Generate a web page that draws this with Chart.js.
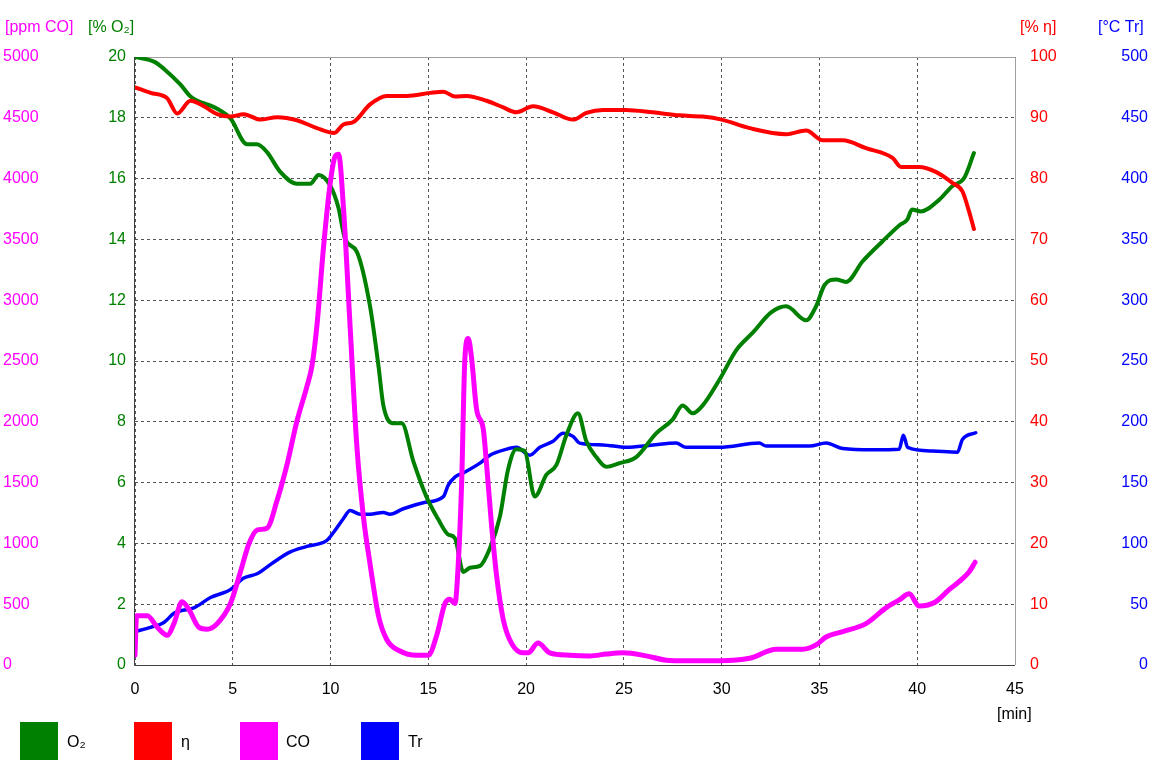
<!DOCTYPE html>
<html>
<head>
<meta charset="utf-8">
<script src="https://cdn.jsdelivr.net/npm/chart.js@4/dist/chart.umd.min.js"></script>
<style>
  body { margin: 0; background: #fff; font-family: "Liberation Sans", Arial, sans-serif; }
  #wrap { position: relative; width: 1152px; height: 768px; }
  .lg-box { position: absolute; top: 722px; width: 38px; height: 38px; }
  .lg-txt { position: absolute; top: 733px; font-size: 16px; color: #000; }
</style>
</head>
<body>
<div id="wrap">
  <canvas id="chartCanvas" width="1152" height="768"></canvas>
  <div class="lg-box" style="left:20px;background:#008000"></div><div class="lg-txt" style="left:67px">O₂</div>
  <div class="lg-box" style="left:134px;background:#ff0000"></div><div class="lg-txt" style="left:181px">η</div>
  <div class="lg-box" style="left:240px;background:#ff00ff"></div><div class="lg-txt" style="left:286px">CO</div>
  <div class="lg-box" style="left:361px;background:#0000ff"></div><div class="lg-txt" style="left:408px">Tr</div>
</div>
<script>
// values, time in minutes
const o2Time = [0, 1, 1.5, 2.33, 2.84, 4.2, 4.88, 5.73, 6.24, 6.75, 7.43, 8.28, 8.96, 9.39, 9.98, 10.4, 10.75, 11.34, 12.02, 12.45, 12.7, 13.2, 13.64, 14.23, 14.9, 15.5, 16.0, 16.36, 16.79, 17.13, 17.64, 18.15, 18.66, 19.08, 19.5, 19.93, 20.44, 21.04, 21.55, 22.06, 22.65, 23.08, 23.59, 24.1, 24.78, 25.63, 26.65, 27.5, 28.0, 28.52, 29.03, 29.9, 30.75, 31.6, 32.53, 33.3, 34.32, 34.83, 35.26, 35.85, 36.36, 37.21, 38.23, 39.08, 39.5, 39.73, 40.19, 41.12, 41.8, 42.4, 42.9];
const o2Values = [20, 19.84, 19.6, 19.09, 18.7, 18.3, 17.98, 17.13, 17.13, 16.87, 16.22, 15.83, 15.83, 16.12, 15.77, 15.05, 14.0, 13.6, 11.8, 9.84, 8.54, 7.95, 7.95, 6.71, 5.54, 4.8, 4.3, 4.17, 3.06, 3.2, 3.26, 3.84, 4.88, 6.44, 7.1, 7.04, 5.54, 6.26, 6.58, 7.56, 8.28, 7.36, 6.84, 6.52, 6.64, 6.84, 7.62, 8.08, 8.54, 8.28, 8.54, 9.4, 10.36, 10.94, 11.6, 11.8, 11.34, 11.8, 12.5, 12.68, 12.6, 13.28, 13.94, 14.46, 14.66, 14.98, 14.92, 15.3, 15.76, 16.02, 16.84];

const etaTime = [0, 0.8, 1.65, 2.16, 2.84, 3.52, 4.2, 4.88, 5.56, 6.41, 7.27, 8.28, 9.3, 10.19, 10.66, 11.17, 12.02, 12.87, 13.9, 15.09, 15.77, 16.36, 16.96, 17.98, 18.83, 19.5, 20.36, 21.38, 22.4, 23.08, 23.93, 25.1, 26.48, 27.84, 29.03, 30.0, 31.43, 33.3, 34.32, 35.17, 36.19, 37.38, 38.74, 39.17, 40.1, 40.95, 41.8, 42.31, 42.65, 42.9];
const etaValues = [95, 94.1, 93.2, 90.7, 92.8, 91.9, 90.6, 90.2, 90.6, 89.7, 90.1, 89.6, 88.3, 87.5, 88.9, 89.3, 92.2, 93.6, 93.6, 94.1, 94.3, 93.5, 93.6, 92.8, 91.7, 90.9, 91.9, 90.9, 89.7, 90.8, 91.3, 91.3, 90.9, 90.4, 90.2, 89.7, 88.3, 87.3, 87.9, 86.3, 86.3, 85.0, 83.4, 81.9, 81.9, 81.1, 79.3, 77.9, 74.6, 71.7];

const coTime = [0, 0.08, 0.63, 1.14, 1.65, 1.99, 2.41, 2.76, 3.27, 3.69, 4.2, 4.88, 5.39, 5.82, 6.24, 6.75, 7.26, 7.77, 8.28, 8.8, 9.05, 9.3, 9.64, 9.98, 10.24, 10.41, 10.66, 11.0, 11.34, 11.68, 12.02, 12.45, 12.87, 13.55, 14.4, 15.0, 15.43, 15.85, 16.1, 16.36, 16.53, 16.7, 16.87, 17.04, 17.21, 17.47, 17.81, 17.98, 18.23, 18.49, 18.83, 19.25, 19.85, 20.1, 20.61, 21.21, 22.23, 23.25, 24.1, 24.95, 26.14, 27.16, 28.18, 29.9, 31.43, 32.79, 34.15, 34.83, 35.34, 36.19, 37.38, 38.4, 39.08, 39.59, 40.1, 40.95, 41.63, 42.14, 42.65, 42.96];
const coValues = [80, 405, 405, 310, 245, 340, 520, 455, 310, 295, 340, 505, 765, 995, 1110, 1125, 1350, 1645, 2005, 2295, 2460, 2785, 3435, 3960, 4185, 4200, 3760, 2785, 1810, 1220, 830, 405, 210, 115, 80, 80, 245, 505, 540, 505, 830, 1480, 2525, 2685, 2525, 2100, 1940, 1645, 1155, 735, 375, 180, 100, 100, 180, 100, 80, 75, 90, 100, 75, 40, 35, 35, 55, 130, 130, 165, 230, 275, 340, 470, 535, 585, 485, 520, 620, 685, 765, 845];

const trTime = [0, 0.8, 1.48, 1.99, 2.33, 3.01, 3.86, 4.88, 5.56, 6.24, 7.09, 7.94, 8.79, 9.81, 10.15, 10.66, 11.0, 11.51, 12.02, 12.7, 13.04, 13.72, 14.74, 15.77, 16.02, 16.36, 16.79, 17.64, 18.15, 19.0, 19.5, 20.19, 20.7, 21.38, 21.89, 22.4, 22.74, 23.93, 25.12, 26.48, 27.67, 28.18, 29.88, 31.92, 32.28, 34.49, 35.34, 36.19, 37.72, 39.08, 39.29, 39.51, 40.78, 42.06, 42.31, 42.99];
const trValues = [27.5, 31, 35, 42.5, 44.5, 47, 55.5, 62, 71.5, 75, 84.5, 93, 97.5, 102.5, 109, 120.5, 127, 124, 124, 125.5, 124, 128.5, 133.5, 138.5, 148, 154.5, 158, 166, 172.5, 177.5, 179, 172.5, 179, 184, 190.5, 188, 182.5, 181, 179, 181, 182.5, 179, 179, 182.5, 180, 180, 182.5, 178, 177, 177.5, 189, 179, 176, 175, 185.5, 191];

const xTicks = [0, 5, 10, 15, 20, 25, 30, 35, 40, 45];

const FONT = { family: '"Liberation Sans", Arial, sans-serif', size: 16 };

function pts(ts, vs) { return ts.map((t, i) => ({ x: t, y: vs[i] })); }
const plain = v => String(v);

const axisTitles = {
  id: 'axisTitles',
  beforeDatasetsDraw(chart) {
    const { ctx, chartArea: a } = chart;
    ctx.save();
    ctx.strokeStyle = '#a0a0a0';
    ctx.lineWidth = 1;
    ctx.beginPath();
    ctx.moveTo(a.left, a.top + 0.5); ctx.lineTo(a.right + 0.5, a.top + 0.5); ctx.lineTo(a.right + 0.5, a.bottom);
    ctx.stroke();
    ctx.strokeStyle = '#404040';
    ctx.beginPath();
    ctx.moveTo(a.left - 0.5, a.top); ctx.lineTo(a.left - 0.5, a.bottom + 0.5); ctx.lineTo(a.right, a.bottom + 0.5);
    ctx.stroke();
    ctx.restore();
  },
  afterDraw(chart) {
    const ctx = chart.ctx;
    ctx.save();
    ctx.font = '16px "Liberation Sans", Arial, sans-serif';
    ctx.textBaseline = 'middle';
    ctx.textAlign = 'left';
    ctx.fillStyle = '#ff00ff'; ctx.fillText('[ppm CO]', 5, 28);
    ctx.fillStyle = '#008000'; ctx.fillText('[% O₂]', 88, 28);
    ctx.fillStyle = '#ff0000'; ctx.fillText('[% η]', 1020, 28);
    ctx.fillStyle = '#0000ff'; ctx.fillText('[°C Tr]', 1098, 28);
    ctx.fillStyle = '#000'; ctx.fillText('[min]', 997, 715);
    ctx.restore();
  }
};

new Chart(document.getElementById('chartCanvas').getContext('2d'), {
  type: 'line',
  data: {
    datasets: [
      { label: 'O₂', data: pts(o2Time, o2Values), yAxisID: 'yO2', borderColor: '#008000', order: 2 },
      { label: 'η', data: pts(etaTime, etaValues), yAxisID: 'yEta', borderColor: '#ff0000', order: 1 },
      { label: 'CO', data: pts(coTime, coValues), yAxisID: 'yCO', borderColor: '#ff00ff', borderWidth: 5, order: 0 },
      { label: 'Tr', data: pts(trTime, trValues), yAxisID: 'yTr', borderColor: '#0000ff', borderWidth: 3.5, order: 3 }
    ]
  },
  options: {
    responsive: false,
    animation: false,
    layout: { padding: { left: 3, right: 4, top: 57, bottom: 0 } },
    elements: {
      point: { radius: 0 },
      line: { borderWidth: 4, cubicInterpolationMode: 'monotone', borderJoinStyle: 'round', borderCapStyle: 'round' }
    },
    plugins: {
      legend: { display: false },
      tooltip: { enabled: false }
    },
    scales: {
      x: {
        type: 'linear', min: 0, max: 45,
        afterBuildTicks(s) { s.ticks = xTicks.map(v => ({ value: v })); },
        afterFit(s) { s.height = 103; },
        ticks: { color: '#000', font: FONT, padding: 15, callback: plain },
        grid: { color: '#555', drawTicks: false },
        border: { display: false, dash: [3, 3] }
      },
      yCO: {
        position: 'left', weight: 1, min: 0, max: 5000,
        afterFit(s) { s.width = 72; },
        ticks: { stepSize: 500, color: '#ff00ff', font: FONT, crossAlign: 'far', padding: 0, callback: plain },
        grid: { display: false, drawTicks: false },
        border: { display: false }
      },
      yO2: {
        position: 'left', weight: 0, min: 0, max: 20,
        afterFit(s) { s.width = 60; },
        ticks: { stepSize: 2, color: '#008000', font: FONT, padding: 9, callback: plain },
        grid: { color: '#555', drawTicks: false },
        border: { display: false, dash: [3, 3] }
      },
      yEta: {
        position: 'right', weight: 0, min: 0, max: 100,
        afterFit(s) { s.width = 70; },
        ticks: { stepSize: 10, color: '#ff0000', font: FONT, padding: 15, callback: plain },
        grid: { display: false, drawTicks: false },
        border: { display: false }
      },
      yTr: {
        position: 'right', weight: 1, min: 0, max: 500,
        afterFit(s) { s.width = 63; },
        ticks: { stepSize: 50, color: '#0000ff', font: FONT, crossAlign: 'far', padding: 0, callback: plain },
        grid: { display: false, drawTicks: false },
        border: { display: false }
      }
    }
  },
  plugins: [axisTitles]
});
</script>
</body>
</html>
